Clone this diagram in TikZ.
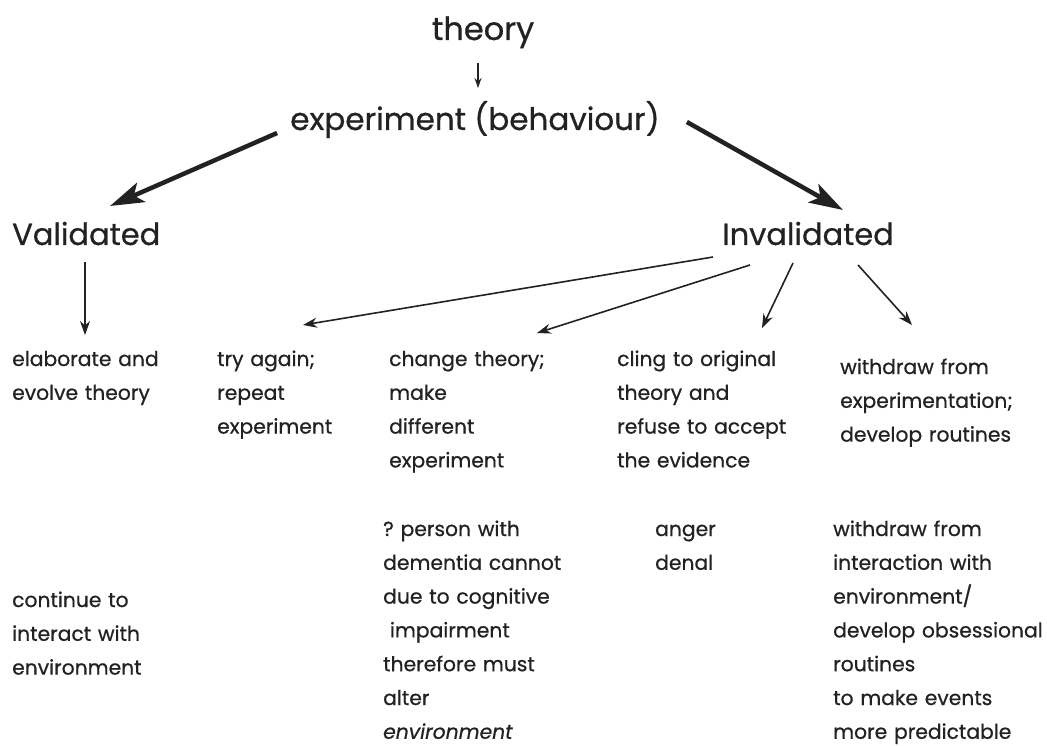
\documentclass[tikz,border=0pt]{standalone}
\usepackage{fontspec}
\setmainfont{Poppins}[FakeBold=0.7]
\usetikzlibrary{positioning, arrows.meta}
\definecolor{inkc}{HTML}{222222}

\begin{document}
\begin{tikzpicture}[x=1pt, y=-1pt,
      big/.style={font=\fontsize{31}{38}\selectfont, inner sep=0pt, text=inkc},
      hd/.style={font=\fontsize{30.5}{38}\selectfont, inner sep=0pt, text=inkc,
                 anchor=base west},
      t/.style={font=\fontsize{20.3}{33.8}\selectfont, inner sep=0pt, text=inkc,
                align=left, text width=260pt, anchor=base west},
      arr/.style={-{Stealth[length=14pt, width=10pt]}, inkc, line width=1.6pt},
      bigarr/.style={-{Stealth[length=34pt, width=21pt, inset=8pt]}, inkc,
                     line width=4.5pt},
      smallarr/.style={-{Stealth[length=10pt, width=7pt]}, inkc, line width=1.3pt}]
    \useasboundingbox (0,0) rectangle (1047,746);
    \node[big, anchor=base, font=\fontsize{32}{38}\selectfont] (theory) at (483,40) {theory};
    \node[big, anchor=base] (exper) at (475,130) {experiment (behaviour)};
    \node[hd] (valid)   at (12,245)  {Validated};
    \node[hd] (invalid) at (722,245) {Invalidated};
    \node[t] (elab)     at (12,366)  {elaborate and\\evolve theory};
    \node[t] (retry)    at (217,366) {try again;\\repeat\\experiment};
    \node[t] (change)   at (389,366) {change theory;\\make\\different\\experiment};
    \node[t] (cling)    at (617,366) {cling to original\\theory and\\refuse to accept\\the evidence};
    \node[t] (withdraw) at (840,374) {withdraw from\\experimentation;\\develop routines};
    \node[t] (cont)     at (12,607)  {continue to\\interact with\\environment};
    \node[t] (person)   at (383,536) {?\ person with\\dementia cannot\\due to cognitive\\\ impairment\\therefore must\\alter\\\emph{environment}};
    \node[t] (anger)    at (655,536) {anger\\denal};
    \node[t] (obsess)   at (833,536) {withdraw from\\interaction with\\environment/\\develop obsessional\\routines\\to make events\\more predictable};
    \draw[smallarr] ([shift={(-5,23)}]theory.base) -- ([shift={(3,-42)}]exper.base);
    \draw[bigarr] ([shift={(-13,3)}]exper.base west) -- ([shift={(98,-39)}]valid.base west);
    \draw[bigarr] ([shift={(27,-8)}]exper.base east) -- ([shift={(121,-35)}]invalid.base west);
    \draw[arr] ([shift={(73,17)}]valid.base west) -- ([shift={(73,-31)}]elab.base west);
    \draw[arr] ([shift={(-9,12)}]invalid.base west) -- ([shift={(86,-41)}]retry.base west);
    \draw[arr] ([shift={(28,20)}]invalid.base west) -- ([shift={(148,-33)}]change.base west);
    \draw[arr] ([shift={(71,18)}]invalid.base west) -- ([shift={(145,-38)}]cling.base west);
    \draw[arr] ([shift={(136,20)}]invalid.base west) -- ([shift={(72,-49)}]withdraw.base west);
  \end{tikzpicture}
\end{document}
